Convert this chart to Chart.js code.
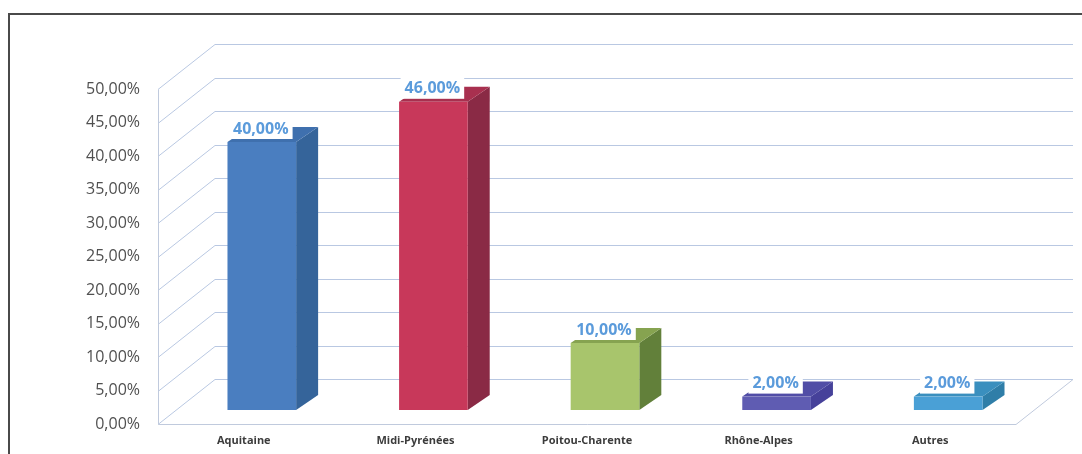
<!DOCTYPE html>
<html>
<head>
<meta charset="utf-8">
<script src="https://cdn.jsdelivr.net/npm/chart.js@4.4.1/dist/chart.umd.min.js"></script>
<style>
html,body{margin:0;padding:0;background:#fff;}
#c{display:block;}
</style>
</head>
<body>
<canvas id="c" width="1082" height="454"></canvas>
<script>
// ---- data ----
const categories = ['Aquitaine', 'Midi-Pyrénées', 'Poitou-Charente', 'Rhône-Alpes', 'Autres'];
const values = [40, 46, 10, 2, 2];
const tickMin = 0, tickMax = 50, tickStep = 5;

// ---- styles ----
const frontColors = ['#4A7EC0', '#C8385A', '#A8C56C', '#5F5CB2', '#4AA0D6'];
const sideColors  = ['#35649A', '#8A2A45', '#62803A', '#46419A', '#2F7EA8'];
const topColors   = ['#3F70AE', '#A8304F', '#86A350', '#514DA6', '#3A8FBE'];
const fmt = v => v.toFixed(2).replace('.', ',') + '%';

const WALL_DX = 57, WALL_DY = -45;   // back wall offset
const FRONT_DX = 18, FRONT_DY = -14; // bar front face offset
const DEPTH_DX = 22, DEPTH_DY = -15; // bar depth

const gridPlugin = {
  id: 'grid3d',
  beforeDatasetsDraw(chart) {
    const ctx = chart.ctx, y = chart.scales.y, a = chart.chartArea;
    ctx.save();
    // frame border
    ctx.strokeStyle = '#4a4a4a';
    ctx.lineWidth = 2;
    ctx.beginPath();
    ctx.moveTo(9, 454); ctx.lineTo(9, 14); ctx.lineTo(1082, 14);
    ctx.stroke();

    ctx.lineWidth = 1;
    ctx.strokeStyle = '#B9C8E2';
    y.ticks.forEach(t => {
      const py = Math.round(y.getPixelForValue(t.value)) + 0.5;
      ctx.beginPath();
      ctx.moveTo(a.left, py);
      ctx.lineTo(a.left + WALL_DX, py + WALL_DY);
      ctx.lineTo(a.right + WALL_DX, py + WALL_DY);
      ctx.stroke();
    });
    // left front edge and floor
    const p0 = Math.round(y.getPixelForValue(tickMin)) + 0.5;
    const pT = Math.round(y.getPixelForValue(tickMax)) + 0.5;
    ctx.strokeStyle = '#C0CADD';
    ctx.beginPath();
    ctx.moveTo(a.left + 0.5, pT);
    ctx.lineTo(a.left + 0.5, p0);
    ctx.lineTo(a.right, p0);
    ctx.lineTo(a.right + WALL_DX, p0 + WALL_DY);
    ctx.stroke();
    ctx.restore();
  },
  afterDatasetsDraw(chart) {
    const ctx = chart.ctx;
    const meta = chart.getDatasetMeta(0);
    ctx.save();
    meta.data.forEach((bar, i) => {
      const p = bar.getProps(['x', 'y', 'base', 'width'], true);
      const l = p.x - p.width / 2 + FRONT_DX, r = p.x + p.width / 2 + FRONT_DX;
      const t = p.y + FRONT_DY, b = p.base + FRONT_DY;
      // side face
      ctx.fillStyle = sideColors[i];
      ctx.beginPath();
      ctx.moveTo(r, t); ctx.lineTo(r + DEPTH_DX, t + DEPTH_DY);
      ctx.lineTo(r + DEPTH_DX, b + DEPTH_DY); ctx.lineTo(r, b);
      ctx.closePath(); ctx.fill();
      // top face
      ctx.fillStyle = topColors[i];
      ctx.beginPath();
      ctx.moveTo(l, t); ctx.lineTo(l + DEPTH_DX, t + DEPTH_DY);
      ctx.lineTo(r + DEPTH_DX, t + DEPTH_DY); ctx.lineTo(r, t);
      ctx.closePath(); ctx.fill();
      // front face
      ctx.fillStyle = frontColors[i];
      ctx.fillRect(l, t, r - l, b - t);

      // value label with white box
      const cx = (l + r) / 2 - 1, cy = t - 14;
      ctx.font = 'bold 16px "Open Sans"';
      const txt = fmt(values[i]);
      const w = ctx.measureText(txt).width;
      ctx.fillStyle = '#ffffff';
      ctx.fillRect(cx - w / 2 - 4, cy - 11, w + 8, 22);
      ctx.fillStyle = '#5B9BDB';
      ctx.textAlign = 'center';
      ctx.textBaseline = 'middle';
      ctx.fillText(txt, cx, cy + 1);
    });
    ctx.restore();
  }
};

new Chart(document.getElementById('c'), {
  type: 'bar',
  data: {
    labels: categories,
    datasets: [{
      data: values,
      backgroundColor: 'rgba(0,0,0,0)',
      borderWidth: 0,
      categoryPercentage: 1,
      barPercentage: 0.4
    }]
  },
  options: {
    responsive: false,
    animation: false,
    devicePixelRatio: 1,
    layout: { padding: { top: 89, right: 66, left: 0, bottom: 0 } },
    plugins: { legend: { display: false }, tooltip: { enabled: false } },
    scales: {
      x: {
        grid: { display: false, drawTicks: false },
        border: { display: false },
        ticks: {
          padding: 10,
          color: '#3c3c3c',
          font: { family: '"Open Sans"', size: 11, weight: 'bold' },
          maxRotation: 0
        },
        afterFit: s => { s.height = 30; }
      },
      y: {
        min: tickMin, max: tickMax,
        grid: { display: false, drawTicks: false },
        border: { display: false },
        ticks: {
          stepSize: tickStep,
          padding: 18,
          color: '#505050',
          font: { family: '"Open Sans"', size: 16 },
          callback: v => fmt(v)
        },
        afterFit: s => { s.width = 158; }
      }
    }
  },
  plugins: [gridPlugin]
});
</script>
</body>
</html>
